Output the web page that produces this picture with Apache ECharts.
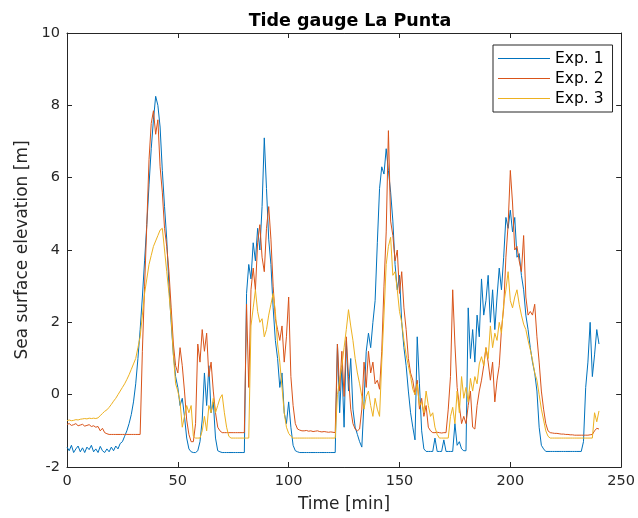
<!DOCTYPE html>
<html>
<head>
<meta charset="utf-8">
<script src="https://cdn.jsdelivr.net/npm/echarts@6/dist/echarts.min.js"></script>
<style>
html,body{margin:0;padding:0;background:#fff;}
#chart{width:638px;height:518px;}
</style>
</head>
<body>
<div id="chart"></div>
<script>
// Sampling interval of the series below, minutes (sample i is at time i * sampleStepMin)
const sampleStepMin = 1;

const seriesNames = ['Exp. 1', 'Exp. 2', 'Exp. 3'];
const xTicks = [0, 50, 100, 150, 200, 250];
const yTicks = [-2, 0, 2, 4, 6, 8, 10];

// Exp. 1 (t = 0..240 min)
const exp1 = [
-1.45,-1.55,-1.4,-1.6,-1.5,-1.42,-1.58,-1.47,-1.6,-1.45,
-1.52,-1.4,-1.58,-1.5,-1.6,-1.43,-1.55,-1.6,-1.5,-1.58,
-1.45,-1.55,-1.42,-1.5,-1.35,-1.3,-1.15,-1.0,-0.8,-0.55,
-0.2,0.3,1.0,1.8,2.7,3.7,4.7,5.8,6.8,7.6,
8.25,8.0,7.4,6.2,5.2,4.3,3.0,2.0,1.1,0.5,
0.2,-0.3,-0.1,-0.6,-1.2,-1.5,-1.58,-1.6,-1.6,-1.55,
-1.3,-0.7,0.6,-0.3,0.8,-0.5,-0.2,-1.2,-1.55,-1.58,
-1.6,-1.6,-1.6,-1.6,-1.6,-1.6,-1.6,-1.6,-1.6,-1.6,
-1.6,2.8,3.6,3.2,4.2,3.7,4.6,4.0,5.2,7.1,
5.7,4.3,3.6,2.4,1.5,1.0,0.2,0.6,-0.5,-0.8,
-0.2,-0.9,-1.4,-1.55,-1.58,-1.6,-1.6,-1.6,-1.6,-1.6,
-1.6,-1.6,-1.6,-1.6,-1.6,-1.6,-1.6,-1.6,-1.6,-1.6,
-1.6,-1.6,1.4,-0.5,0.8,-0.9,1.5,0.1,1.0,-0.4,
-0.9,-1.1,-1.3,-1.45,-0.2,1.2,1.7,1.3,2.0,2.6,
4.2,5.7,6.3,6.1,6.8,6.2,5.6,4.8,3.6,2.9,
3.3,2.0,1.3,0.8,0.1,-0.5,-0.9,-1.25,1.6,0.3,
-1.0,-1.5,-1.57,-1.57,-1.57,-1.57,-1.2,-1.57,-1.57,-1.57,
-1.25,-1.57,-1.57,-1.57,-1.57,-0.8,-1.4,-1.3,-1.5,-1.55,
-1.55,2.4,1.0,1.8,0.9,2.2,1.6,3.2,2.2,2.6,
3.3,2.0,2.9,1.8,2.7,3.5,2.9,3.8,4.9,4.6,
5.1,4.5,4.9,3.8,3.9,3.3,2.9,2.2,1.8,1.3,
0.9,0.6,0.1,-0.9,-1.4,-1.5,-1.57,-1.57,-1.57,-1.57,
-1.57,-1.57,-1.57,-1.57,-1.57,-1.57,-1.57,-1.57,-1.57,-1.57,
-1.57,-1.57,-1.57,-1.3,0.2,0.9,2.0,0.5,1.1,1.8,
1.4
];

// Exp. 2
const exp2 = [
-0.82,-0.8,-0.85,-0.83,-0.8,-0.86,-0.84,-0.82,-0.87,-0.85,
-0.83,-0.88,-0.86,-0.9,-0.88,-1.0,-0.93,-1.05,-1.08,-1.1,
-1.1,-1.1,-1.1,-1.1,-1.1,-1.1,-1.1,-1.1,-1.1,-1.1,
-1.1,-1.1,-1.1,-1.1,1.2,3.0,4.7,6.5,7.5,7.85,
7.2,7.6,6.3,5.6,4.6,4.1,3.4,2.4,1.4,0.8,
0.6,1.3,0.8,0.1,-0.7,-1.1,-1.3,-1.3,-0.8,1.4,
0.9,1.8,1.2,1.7,0.5,0.9,0.1,-0.5,-0.9,-1.0,
-1.05,-1.05,-1.05,-1.05,-1.05,-1.05,-1.05,-1.05,-1.05,-1.05,
-1.05,2.5,0.2,2.9,3.5,2.9,4.2,4.7,3.8,3.4,
4.6,5.2,4.3,3.0,2.1,1.8,1.5,1.9,0.9,1.6,
2.7,0.5,-0.3,-0.8,-0.95,-0.98,-1.0,-1.0,-0.99,-1.01,
-1.0,-1.02,-1.01,-1.0,-1.02,-1.03,-1.02,-1.03,-1.04,-1.03,
-1.04,-1.05,1.4,0.1,1.2,-0.05,1.6,0.5,-0.4,-0.8,
-0.95,-1.0,-0.95,-0.4,0.9,0.2,1.2,0.6,0.9,0.3,
0.4,0.15,1.2,3.0,4.5,7.3,4.8,4.4,3.7,4.0,
2.8,3.4,2.4,1.8,1.0,0.6,0.4,0.0,0.4,-0.4,
-0.1,-0.6,-0.3,-0.9,-1.0,-1.05,-1.05,-1.04,-1.05,-1.06,
-1.05,-1.05,-0.4,0.5,2.9,1.4,0.2,-0.3,-0.8,-0.6,
-0.8,-0.3,0.1,-0.9,-0.95,-0.3,0.1,0.4,0.8,1.3,
0.9,0.4,0.9,-0.2,0.4,0.8,1.8,2.4,3.8,4.7,
6.2,5.3,4.0,4.1,3.7,3.4,4.4,2.7,2.2,2.3,
2.2,2.5,1.6,0.9,0.1,-0.4,-0.8,-1.0,-1.05,-1.06,
-1.07,-1.07,-1.08,-1.09,-1.09,-1.1,-1.1,-1.11,-1.11,-1.12,
-1.12,-1.12,-1.12,-1.12,-1.12,-1.12,-1.11,-1.1,-1.0,-0.93,
-0.95
];

// Exp. 3
const exp3 = [
-0.72,-0.7,-0.72,-0.71,-0.69,-0.7,-0.68,-0.67,-0.66,-0.67,
-0.65,-0.66,-0.65,-0.66,-0.64,-0.58,-0.52,-0.46,-0.42,-0.35,
-0.27,-0.18,-0.1,0.0,0.1,0.2,0.3,0.42,0.55,0.7,
0.85,1.0,1.3,1.6,2.2,2.8,3.2,3.6,3.85,4.1,
4.25,4.4,4.55,4.6,4.0,3.4,2.8,2.1,1.1,0.3,
0.1,-0.2,-0.9,-0.6,-0.3,-0.5,-0.3,-1.15,-1.2,-1.2,
-1.2,-1.0,-0.6,-1.0,-0.3,-0.5,-0.1,-0.5,-0.3,-0.1,
0.0,-0.5,-0.9,-1.15,-1.2,-1.2,-1.2,-1.2,-1.2,-1.2,
-1.2,-1.2,-1.2,1.9,2.4,2.9,2.3,2.0,2.1,1.6,
1.8,2.2,2.5,2.8,2.3,1.4,0.9,0.2,-0.5,-0.9,
-1.07,-1.15,-1.2,-1.2,-1.2,-1.2,-1.2,-1.2,-1.2,-1.2,
-1.2,-1.2,-1.2,-1.2,-1.2,-1.2,-1.2,-1.2,-1.2,-1.2,
-1.2,-1.2,0.0,0.4,0.8,1.3,1.8,2.35,1.9,1.5,
1.0,0.6,0.3,-0.05,-0.4,-0.05,0.1,-0.3,-0.6,-0.1,
-0.4,-0.6,0.9,2.2,3.6,4.1,4.35,3.3,3.4,2.9,
2.3,2.0,1.5,1.1,0.8,0.5,0.15,0.0,0.3,-0.3,
-0.2,-0.5,0.1,-0.3,-0.6,-0.5,-0.9,-1.1,-1.2,-1.2,
-1.2,-1.2,-1.2,-0.6,-0.35,-0.8,0.1,-0.5,0.5,-0.1,
0.2,-0.2,0.45,0.1,0.5,0.3,0.85,1.05,0.8,1.3,
1.0,1.9,1.3,1.7,1.5,2.0,1.7,2.5,2.9,3.4,
2.6,2.4,2.7,2.9,2.5,2.2,1.95,1.8,1.5,1.25,
0.95,0.6,0.4,0.0,-0.4,-0.7,-1.0,-1.15,-1.2,-1.2,
-1.2,-1.2,-1.2,-1.2,-1.2,-1.2,-1.2,-1.2,-1.2,-1.2,
-1.2,-1.2,-1.2,-1.2,-1.2,-1.2,-1.2,-1.2,-0.5,-0.75,
-0.45
];

const seriesColors = ['#0072BD', '#D95319', '#EDB120'];
const seriesValues = [exp1, exp2, exp3];

const FONT = 'DejaVu Sans';
const INK = '#262626';

const chart = echarts.init(document.getElementById('chart'), null, {renderer: 'canvas'});

const toPairs = vals => vals.map((v, i) => [i * sampleStepMin, v]);

const axisCommon = {
  type: 'value',
  axisLine: {show: true, onZero: false, lineStyle: {color: INK, width: 1}},
  axisTick: {show: true, inside: true, length: 5, lineStyle: {color: INK}},
  splitLine: {show: false}
};

const option = {
  animation: false,
  backgroundColor: '#ffffff',
  title: {
    text: 'Tide gauge La Punta',
    left: 345, top: 7, textAlign: 'center',
    textStyle: {fontFamily: FONT, fontWeight: 'bold', fontSize: 17.5, color: '#000'}
  },
  legend: {
    orient: 'vertical',
    left: 493, top: 45,
    padding: [4, 9, 4, 5],
    itemGap: 1,
    icon: 'rect',
    itemWidth: 52, itemHeight: 1.2,
    borderColor: INK, borderWidth: 1,
    backgroundColor: '#fff',
    textStyle: {fontFamily: FONT, fontSize: 15.5, color: '#000', lineHeight: 19},
    data: seriesNames.map(n => ({name: n}))
  },
  grid: {left: 67, right: 16, top: 33, bottom: 51, containLabel: false},
  xAxis: [
    Object.assign({}, axisCommon, {
      min: xTicks[0], max: xTicks[xTicks.length - 1], interval: 50,
      name: 'Time [min]', nameLocation: 'middle', nameGap: 29,
      nameTextStyle: {fontFamily: FONT, fontSize: 17, color: INK},
      axisLabel: {fontFamily: FONT, fontSize: 14.5, color: INK, margin: 7}
    }),
    Object.assign({}, axisCommon, {
      position: 'top',
      min: xTicks[0], max: xTicks[xTicks.length - 1], interval: 50,
      axisLabel: {show: false}
    })
  ],
  yAxis: [
    Object.assign({}, axisCommon, {
      min: yTicks[0], max: yTicks[yTicks.length - 1], interval: 2,
      name: 'Sea surface elevation [m]', nameLocation: 'middle', nameGap: 36,
      nameTextStyle: {fontFamily: FONT, fontSize: 17, color: INK},
      axisLabel: {fontFamily: FONT, fontSize: 14.5, color: INK, margin: 7}
    }),
    Object.assign({}, axisCommon, {
      position: 'right',
      min: yTicks[0], max: yTicks[yTicks.length - 1], interval: 2,
      axisLabel: {show: false}
    })
  ],
  series: seriesNames.map((name, k) => ({
    name: name,
    type: 'line',
    xAxisIndex: 0, yAxisIndex: 0,
    data: toPairs(seriesValues[k]),
    showSymbol: false,
    symbol: 'none',
    color: seriesColors[k],
    lineStyle: {color: seriesColors[k], width: 1},
    z: 2 + k
  }))
};

chart.setOption(option);
</script>
</body>
</html>
